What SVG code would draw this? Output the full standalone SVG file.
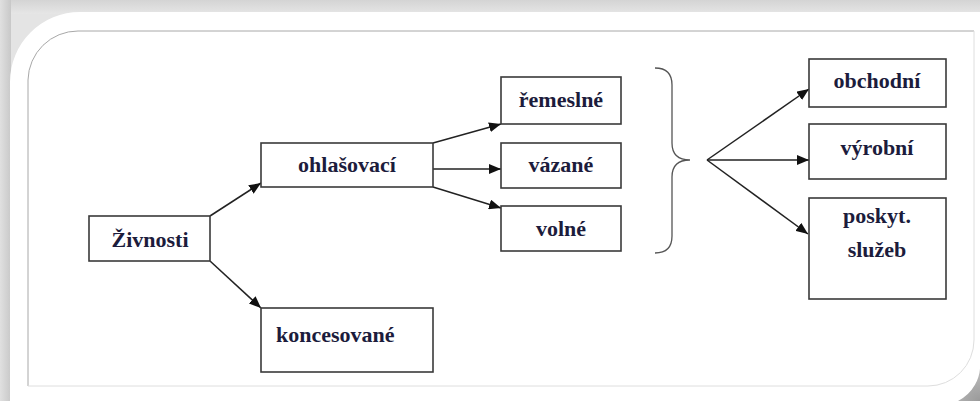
<svg xmlns="http://www.w3.org/2000/svg" width="980" height="401" viewBox="0 0 980 401">
<defs>
<linearGradient id="gTop" x1="0" y1="0" x2="0" y2="1"><stop offset="0" stop-color="#d4d4d4"/><stop offset="1" stop-color="#e6e6e6"/></linearGradient>
<linearGradient id="gLeft" x1="0" y1="0" x2="1" y2="0"><stop offset="0" stop-color="#e0e0e0"/><stop offset="1" stop-color="#c8c8c8"/></linearGradient>
<radialGradient id="gBR" cx="1" cy="1" r="1"><stop offset="0" stop-color="#9a9a9a"/><stop offset="1" stop-color="#e8e8e8"/></radialGradient>
<marker id="ah" viewBox="0 0 12 10" refX="12" refY="5" markerWidth="12" markerHeight="10" markerUnits="userSpaceOnUse" orient="auto">
<path d="M0,0 L12,5 L0,10 Z" fill="#111"/>
</marker>
<style>
.box{fill:#fff;stroke:#3a3a3a;stroke-width:1.6}
.lbl{font-family:'Liberation Serif',serif;font-weight:700;font-size:22px;fill:#1c1c3c;text-anchor:middle}
.con{stroke:#222;stroke-width:1.5;fill:none;marker-end:url(#ah)}
</style>
</defs>
<g id="frame">
<rect x="0" y="0" width="980" height="401" fill="#e4e4e4"/>
<rect x="0" y="0" width="980" height="14" fill="url(#gTop)"/>
<rect x="0" y="0" width="11" height="401" fill="url(#gLeft)"/>
<rect x="900" y="330" width="80" height="71" fill="url(#gBR)"/>
<path d="M10,401 L10,82 A70,70 0 0 1 80,12 L980,12 L980,362 A40,40 0 0 1 958,401 Z" fill="#fff"/>
<path d="M28,386 L28,80 A50,50 0 0 1 78,31 L974,31" fill="none" stroke="#a8a8a8" stroke-width="1"/>
<path d="M974,31 L974,340 A46,46 0 0 1 928,386 L28,386" fill="none" stroke="#dedede" stroke-width="1"/>
</g>
<g id="connectors">
<line class="con" x1="210" y1="216" x2="261" y2="183"/>
<line class="con" x1="210" y1="261" x2="261" y2="308"/>
<line class="con" x1="433" y1="143" x2="501" y2="124"/>
<line class="con" x1="433" y1="169" x2="501" y2="169"/>
<line class="con" x1="433" y1="187" x2="501" y2="208"/>
<line class="con" x1="707" y1="160" x2="809" y2="89"/>
<line class="con" x1="707" y1="160" x2="809" y2="160"/>
<line class="con" x1="707" y1="160" x2="808" y2="234"/>
<path id="brace" d="M655,68 Q672,68 672,85 L672,143 Q672,160 690,160 Q672,160 672,177 L672,236 Q672,253 655,253" fill="none" stroke="#555" stroke-width="1.3"/>
</g>
<g font-family="Liberation Serif, serif" font-weight="bold" font-size="22">
<g id="zivnosti"><rect class="box" x="89" y="216" width="121" height="45"/><text class="lbl" x="150" y="247">Živnosti</text></g>
<g id="ohlasovaci"><rect class="box" x="261" y="143" width="172" height="44"/><text class="lbl" x="347" y="172">ohlašovací</text></g>
<g id="koncesovane"><rect class="box" x="261" y="308" width="172" height="64"/><text class="lbl" x="276" y="342" style="text-anchor:start">koncesované</text></g>
<g id="remeslne"><rect class="box" x="501" y="77" width="120" height="47"/><text class="lbl" x="561" y="107">řemeslné</text></g>
<g id="vazane"><rect class="box" x="501" y="143" width="120" height="45"/><text class="lbl" x="561" y="172">vázané</text></g>
<g id="volne"><rect class="box" x="501" y="206" width="120" height="45"/><text class="lbl" x="561" y="236">volné</text></g>
<g id="obchodni"><rect class="box" x="809" y="59" width="137" height="48"/><text class="lbl" x="877" y="88">obchodní</text></g>
<g id="vyrobni"><rect class="box" x="809" y="124" width="137" height="55"/><text class="lbl" x="877" y="155">výrobní</text></g>
<g id="poskyt"><rect class="box" x="809" y="198" width="137" height="101"/><text class="lbl" x="877" y="223">poskyt.</text><text class="lbl" x="877" y="257">služeb</text></g>
</g>
</svg>
